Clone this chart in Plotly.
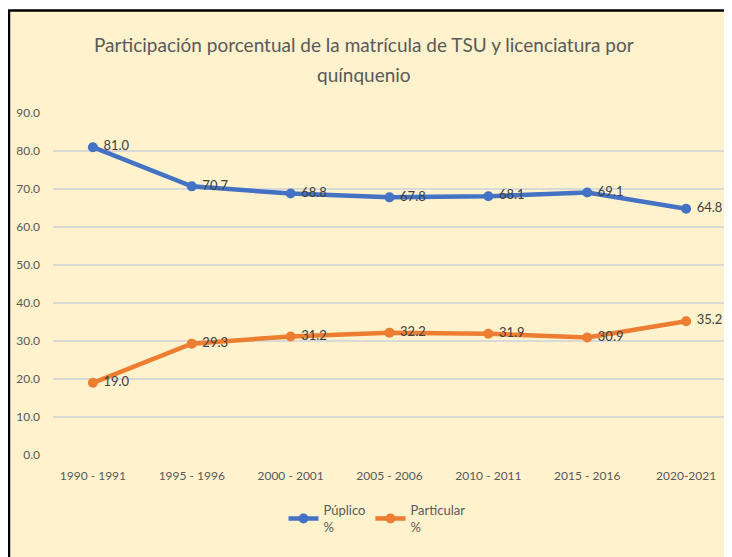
import plotly.graph_objects as go

categories = ["1990 - 1991", "1995 - 1996", "2000 - 2001", "2005 - 2006",
              "2010 - 2011", "2015 - 2016", "2020-2021"]
publico = [81.0, 70.7, 68.8, 67.8, 68.1, 69.1, 64.8]
particular = [19.0, 29.3, 31.2, 32.2, 31.9, 30.9, 35.2]
title_lines = ["Participación porcentual de la matrícula de TSU y licenciatura por",
               "quínquenio"]

FONT = "Lato, sans-serif"

fig = go.Figure()
fig.add_trace(go.Scatter(
    x=categories, y=publico, mode="lines+markers+text",
    name="Púplico<br>%",
    line=dict(color="#4472C4", width=4.5),
    marker=dict(color="#4472C4", size=10),
    text=[f" {v:.1f}" for v in publico], textposition="middle right",
    textfont=dict(color="#404040", size=13, family=FONT),
))
fig.add_trace(go.Scatter(
    x=categories, y=particular, mode="lines+markers+text",
    name="Particular<br>%",
    line=dict(color="#ED7D31", width=4.5),
    marker=dict(color="#ED7D31", size=10),
    text=[f" {v:.1f}" for v in particular], textposition="middle right",
    textfont=dict(color="#404040", size=13, family=FONT),
))

L, R, T, B = 45, 6, 105, 102
W, H = 724, 549
pw, ph = W - L - R, H - T - B

fig.add_shape(type="rect", xref="paper", yref="paper",
              x0=-(L - 1) / pw, x1=1.3, y0=-0.6, y1=(ph + T - 2.5) / ph,
              fillcolor="#FFF2CC", line=dict(color="black", width=2.5),
              layer="below")

for txt, yy in zip(title_lines, [37, 67]):
    fig.add_annotation(text=txt, xref="paper", yref="paper",
                       x=(356 - L) / pw, y=(ph + T - yy) / ph,
                       xanchor="center", yanchor="middle", showarrow=False,
                       font=dict(size=19, color="#595959", family=FONT))

fig.update_layout(
    width=W, height=H,
    paper_bgcolor="white", plot_bgcolor="rgba(0,0,0,0)",
    margin=dict(l=L, r=R, t=T, b=B),
    font=dict(family=FONT, color="#595959"),
    xaxis=dict(showgrid=False, zeroline=False, showline=False,
               tickfont=dict(size=12, color="#595959"), ticks="", ticklabelstandoff=12),
    yaxis=dict(range=[0, 90], dtick=10, tickformat=".1f",
               showgrid=True, gridcolor="#D9D9D9", gridwidth=1.5,
               zeroline=False, showline=False,
               tickfont=dict(size=12, color="#595959"), ticks="", ticklabelstandoff=12),
    legend=dict(orientation="h", x=(369 - L) / pw, xanchor="center", y=-0.117, yanchor="top",
                font=dict(size=13, color="#595959"), bgcolor="rgba(0,0,0,0)",
                itemwidth=30, tracegroupgap=0),
    showlegend=True,
)

fig.write_html("out.html")
